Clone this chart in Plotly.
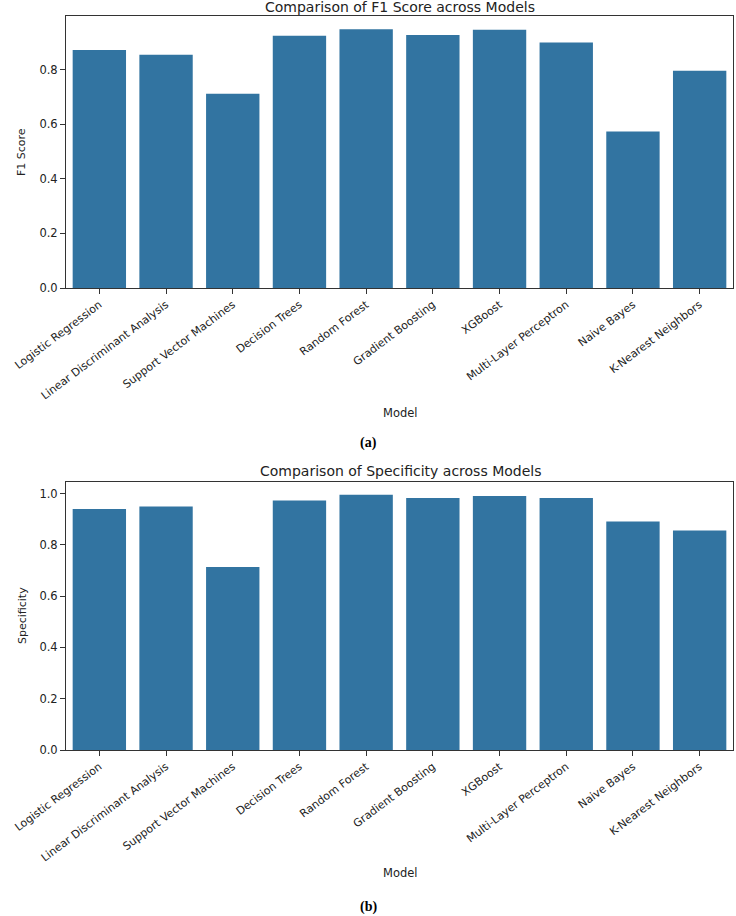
import plotly.graph_objects as go

models = ["Logistic Regression", "Linear Discriminant Analysis", "Support Vector Machines",
          "Decision Trees", "Random Forest", "Gradient Boosting", "XGBoost",
          "Multi-Layer Perceptron", "Naive Bayes", "K-Nearest Neighbors"]
f1_scores = [0.873, 0.855, 0.712, 0.925, 0.949, 0.928, 0.947, 0.900, 0.574, 0.797]
specificity = [0.940, 0.949, 0.714, 0.973, 0.995, 0.983, 0.990, 0.983, 0.891, 0.856]
y_ticks = [0.0, 0.2, 0.4, 0.6, 0.8, 1.0]

BAR = "#3274a1"
FONT = "DejaVu Sans"
W, H = 736, 916

def py(p):
    return 1 - p / H

fig = go.Figure()
idx = list(range(len(models)))
fig.add_trace(go.Bar(x=idx, y=f1_scores, marker=dict(color=BAR, line=dict(width=0)),
                     xaxis="x", yaxis="y", showlegend=False))
fig.add_trace(go.Bar(x=idx, y=specificity, marker=dict(color=BAR, line=dict(width=0)),
                     xaxis="x2", yaxis="y2", showlegend=False))

xcommon = dict(range=[-0.5, 9.5], tickmode="array", tickvals=idx, ticktext=models,
               tickangle=-37, ticks="outside", ticklen=5, tickcolor="#333333",
               showline=True, linecolor="#333333", linewidth=1, mirror=True, automargin=False,
               showgrid=False, zeroline=False, tickfont=dict(family=FONT, size=11, color="#222222"),
               domain=[66 / W, 733 / W])
ycommon = dict(tickmode="array", tickvals=y_ticks, tickformat=".1f",
               ticks="outside", ticklen=5, tickcolor="#333333", automargin=False,
               showline=True, linecolor="#333333", linewidth=1, mirror=True,
               showgrid=False, zeroline=False, tickfont=dict(family=FONT, size=11.5, color="#222222"))

fig.update_layout(
    template="none",
    width=W, height=H, margin=dict(l=0, r=0, t=0, b=0, autoexpand=False),
    paper_bgcolor="white", plot_bgcolor="white", bargap=0.2,
    xaxis=dict(**xcommon, anchor="y"),
    yaxis=dict(**ycommon, range=[0, 0.9975], domain=[py(288), py(16)], anchor="x"),
    xaxis2=dict(**xcommon, anchor="y2"),
    yaxis2=dict(**ycommon, range=[0, 1.045], domain=[py(750), py(482)], anchor="x2"),
)

ann = []
def txt(text, x, y, size, family=FONT, angle=0, color="#222222"):
    ann.append(dict(text=text, x=x / W, y=py(y), xref="paper", yref="paper",
                    showarrow=False, xanchor="center", yanchor="middle",
                    textangle=angle, font=dict(family=family, size=size, color=color)))

txt("Comparison of F1 Score across Models", 400, 7, 14)
txt("Comparison of Specificity across Models", 400, 471, 14)
txt("F1 Score", 22, 152, 11, angle=-90)
txt("Specificity", 22, 616, 11, angle=-90)
txt("Model", 400, 413, 11.5)
txt("Model", 400, 873, 11.5)
txt("<b>(a)</b>", 368, 443, 14, family="Liberation Serif", color="black")
txt("<b>(b)</b>", 368, 907, 14, family="Liberation Serif", color="black")
fig.update_layout(annotations=ann)

fig.write_html("out.html")
